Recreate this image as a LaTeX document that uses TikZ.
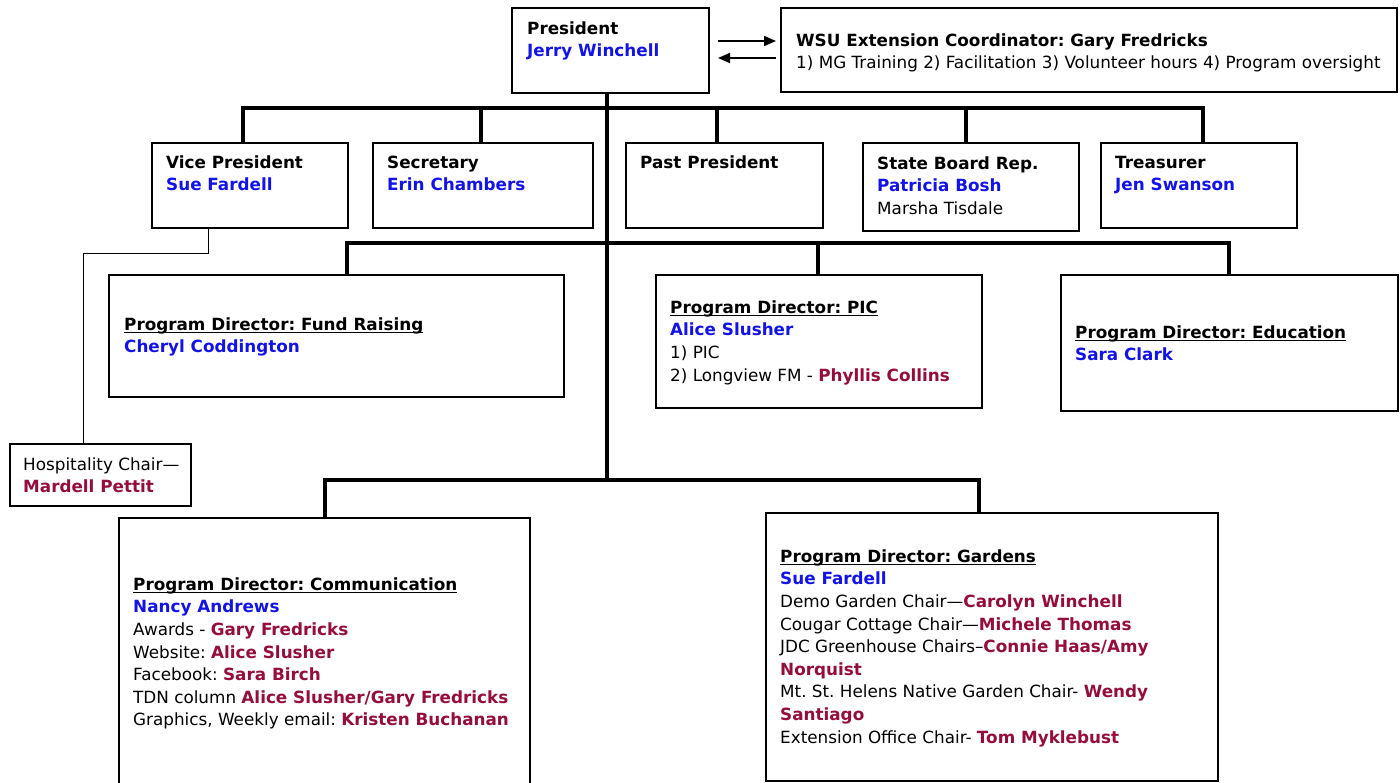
\documentclass[tikz,border=0pt]{standalone}
\usepackage{fontspec}
\setmainfont{DejaVu Sans}
\usetikzlibrary{arrows.meta}
\frenchspacing
\definecolor{nblue}{RGB}{18,18,235}
\definecolor{nred}{RGB}{150,12,58}
\newcommand{\hd}[1]{\textbf{#1}}
\newcommand{\bn}[1]{\textcolor{nblue}{\textbf{#1}}}
\newcommand{\rn}[1]{\textcolor{nred}{\textbf{#1}}}
\newcommand{\ulh}[1]{\setbox0\hbox{\textbf{#1}}\rlap{\rule[-3pt]{\wd0}{1.6pt}}\box0}
\tikzset{
  box/.style={draw, line width=1.5pt, inner sep=0pt, rectangle, anchor=north west},
  txt/.style={anchor=north west, inner sep=0pt, align=left, font=\fontsize{16.8}{22.6}\selectfont},
  conn/.style={line width=3.2pt, line join=miter},
  thinline/.style={line width=1pt},
  arr/.style={line width=1.8pt, -{Triangle[length=12pt,width=10pt]}}
}
\begin{document}
\begin{tikzpicture}[x=1pt,y=-1pt]
\useasboundingbox (0,0) rectangle (1400,782);
\clip (0,0) rectangle (1400,782);
% boxes
\node[box, minimum width=197pt, minimum height=85pt] (pres) at (511,7) {};
\node[box, minimum width=616pt, minimum height=84pt] (wsu) at (780,7) {};
\node[box, minimum width=196pt, minimum height=85pt] (vp) at (151,142) {};
\node[box, minimum width=220pt, minimum height=85pt] (sec) at (372,142) {};
\node[box, minimum width=197pt, minimum height=85pt] (past) at (625,142) {};
\node[box, minimum width=216pt, minimum height=88pt] (sbr) at (862,142) {};
\node[box, minimum width=196pt, minimum height=85pt] (tre) at (1100,142) {};
\node[box, minimum width=455pt, minimum height=122pt] (fund) at (108,274) {};
\node[box, minimum width=326pt, minimum height=133pt] (pic) at (655,274) {};
\node[box, minimum width=337pt, minimum height=136pt] (edu) at (1060,274) {};
\node[box, minimum width=181pt, minimum height=62pt] (hosp) at (9,443) {};
\node[box, minimum width=411pt, minimum height=290pt] (comm) at (118,517) {};
\node[box, minimum width=452pt, minimum height=268pt] (gard) at (765,512) {};
% texts
\node[txt] (tpres) at (527,{34-15.82}) {\strut\hd{President}\\\bn{Jerry Winchell}};
\node[txt] (twsu) at (796,{46-15.82}) {\strut\hd{WSU Extension Coordinator: Gary Fredricks}\\1) MG Training 2) Facilitation 3) Volunteer hours 4) Program oversight};
\node[txt] (tvp) at (166,{168-15.82}) {\strut\hd{Vice President}\\\bn{Sue Fardell}};
\node[txt] (tsec) at (387,{168-15.82}) {\strut\hd{Secretary}\\\bn{Erin Chambers}};
\node[txt] (tpast) at (640,{168-15.82}) {\strut\hd{Past President}};
\node[txt] (tsbr) at (877,{169-15.82}) {\strut\hd{State Board Rep.}\\\bn{Patricia Bosh}\\Marsha Tisdale};
\node[txt] (ttre) at (1115,{168-15.82}) {\strut\hd{Treasurer}\\\bn{Jen Swanson}};
\node[txt] (tfund) at (124,{330-15.82}) {\strut\ulh{Program Director: Fund Raising}\\\bn{Cheryl Coddington}};
\node[txt] (tpic) at (670,{313-15.82}) {\strut\ulh{Program Director: PIC}\\\bn{Alice Slusher}\\1) PIC\\2) Longview FM - \rn{Phyllis Collins}};
\node[txt] (tedu) at (1075,{338-15.82}) {\strut\ulh{Program Director: Education}\\\bn{Sara Clark}};
\node[txt] (thosp) at (23,{470-15.82}) {\strut Hospitality Chair—\\\rn{Mardell Pettit}};
\node[txt] (tcomm) at (133,{590-15.82}) {\strut\ulh{Program Director: Communication}\\\bn{Nancy Andrews}\\Awards - \rn{Gary Fredricks}\\Website: \rn{Alice Slusher}\\Facebook: \rn{Sara Birch}\\TDN column \rn{Alice Slusher/Gary Fredricks}\\Graphics, Weekly email: \rn{Kristen Buchanan}};
\node[txt] (tgard) at (780,{562-15.82}) {\strut\ulh{Program Director: Gardens}\\\bn{Sue Fardell}\\Demo Garden Chair—\rn{Carolyn Winchell}\\Cougar Cottage Chair—\rn{Michele Thomas}\\JDC Greenhouse Chairs–\rn{Connie Haas/Amy}\\\rn{Norquist}\\Mt. St. Helens Native Garden Chair- \rn{Wendy}\\\rn{Santiago}\\Extension Office Chair- \rn{Tom Myklebust}};
% junction coordinates
\coordinate (j0) at (607,480);
\coordinate (d1) at (243,108);
\coordinate (d2) at (481,108);
\coordinate (d3) at (717,108);
\coordinate (d4) at (966,108);
\coordinate (d5) at (1203,108);
\coordinate (e1) at (347,243);
\coordinate (e2) at (818,243);
\coordinate (e3) at (1229,243);
\coordinate (f1) at (325,480);
\coordinate (f2) at (979,480);
\coordinate (h1) at (208,253);
\coordinate (h2) at (83,253);
\coordinate (a1) at (718,41);
\coordinate (a2) at (718,58);
% connectors
\draw[conn] (j0 |- pres.south) -- (j0);
\draw[conn] (d1 |- vp.north) -- (d1) -- (d5) -- (d5 |- tre.north);
\draw[conn] (d2) -- (d2 |- sec.north);
\draw[conn] (d3) -- (d3 |- past.north);
\draw[conn] (d4) -- (d4 |- sbr.north);
\draw[conn] (e1 |- fund.north) -- (e1) -- (e3) -- (e3 |- edu.north);
\draw[conn] (e2) -- (e2 |- pic.north);
\draw[conn] (f1 |- comm.north) -- (f1) -- (f2) -- (f2 |- gard.north);
\draw[thinline] (h1 |- vp.south) -- (h1) -- (h2) -- (h2 |- hosp.north);
\draw[arr, shorten >=4pt] (a1) -- (a1 -| wsu.west);
\draw[arr, shorten <=4pt] (a2 -| wsu.west) -- (a2);
\end{tikzpicture}
\end{document}
